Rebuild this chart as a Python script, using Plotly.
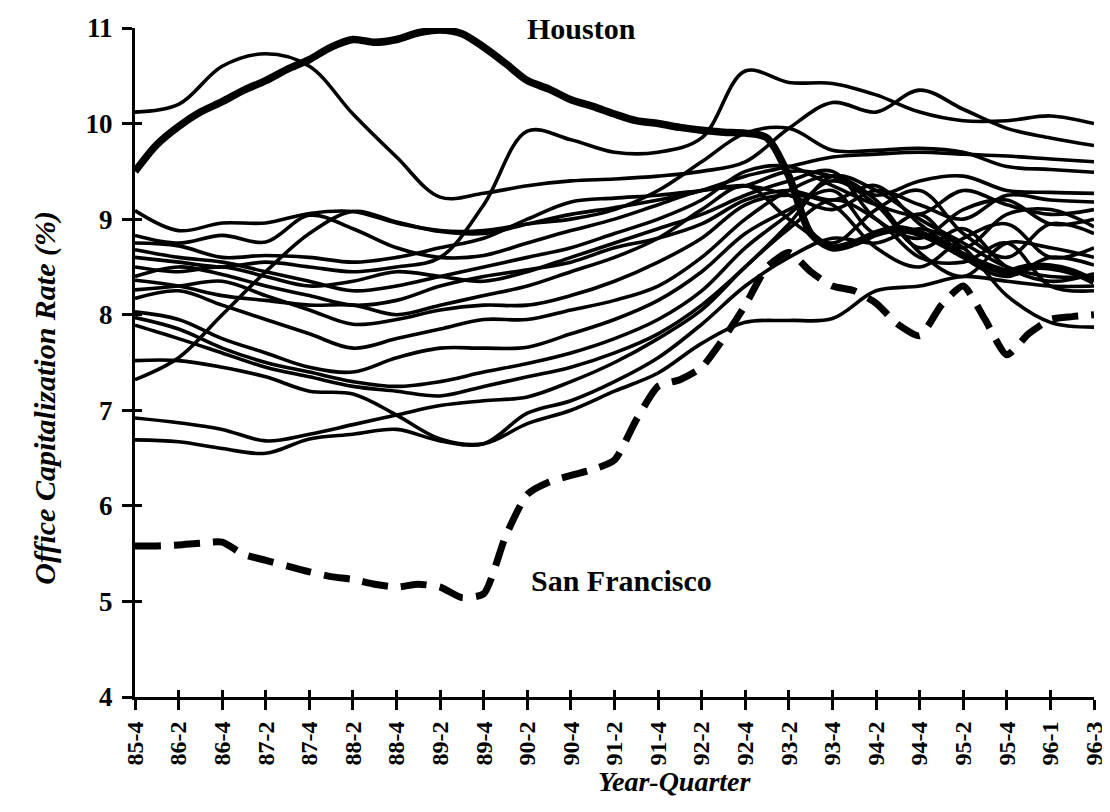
import plotly.graph_objects as go

# ---------------- data ----------------
TICK_LABELS = ["85-4", "86-2", "86-4", "87-2", "87-4", "88-2", "88-4", "89-2", "89-4",
               "90-2", "90-4", "91-2", "91-4", "92-2", "92-4", "93-2", "93-4", "94-2",
               "94-4", "95-2", "95-4", "96-1", "96-3"]
POS = list(range(len(TICK_LABELS)))                 # one point per labelled tick
HALF_POS = [i / 2 for i in range(2 * len(TICK_LABELS) - 1)]  # one point per quarter

HOUSTON = [9.5, 9.78, 9.97, 10.12, 10.23, 10.35, 10.45, 10.57, 10.67, 10.8, 10.88, 10.85,
           10.88, 10.95, 10.98, 10.94, 10.8, 10.63, 10.45, 10.36, 10.25, 10.18, 10.1, 10.03,
           10.0, 9.96, 9.93, 9.91, 9.9, 9.85, 9.45, 8.85, 8.7, 8.75, 8.85, 8.9, 8.85, 8.75,
           8.62, 8.52, 8.45, 8.5, 8.5, 8.45, 8.35]

SAN_FRANCISCO = [5.58, 5.58, 5.59, 5.61, 5.62, 5.49, 5.43, 5.37, 5.31, 5.26, 5.23, 5.18,
                 5.15, 5.18, 5.15, 5.04, 5.08, 5.68, 6.12, 6.25, 6.32, 6.38, 6.48, 6.9,
                 7.25, 7.32, 7.45, 7.75, 8.1, 8.5, 8.65, 8.45, 8.3, 8.25, 8.12, 7.9, 7.78,
                 8.1, 8.3, 7.95, 7.58, 7.8, 7.95, 7.98, 8.0]

CITY_PEAK = [10.12, 10.2, 10.6, 10.73, 10.6, 10.1, 9.65, 9.23, 9.27, 9.35, 9.4, 9.42, 9.45,
             9.5, 9.6, 9.95, 10.22, 10.12, 10.35, 10.15, 9.95, 9.85, 9.77]
CITY_HUMP = [8.6, 8.55, 8.5, 8.55, 8.5, 8.45, 8.5, 8.6, 9.15, 9.92, 9.83, 9.7, 9.7, 9.85,
             10.55, 10.43, 10.42, 10.3, 10.12, 10.03, 10.03, 10.08, 10.0]
CITY_A = [7.32, 7.55, 8.0, 8.45, 8.85, 9.08, 8.97, 8.87, 8.85, 8.95, 9.05, 9.12, 9.2, 9.3,
          9.45, 9.55, 9.65, 9.68, 9.7, 9.68, 9.66, 9.63, 9.6]
CITY_C = [9.09, 8.88, 8.96, 8.96, 9.06, 9.08, 8.96, 8.88, 8.88, 8.95, 9.0, 9.1, 9.3, 9.6,
          9.9, 9.95, 9.72, 9.72, 9.74, 9.7, 9.55, 9.52, 9.49]
CITY_1 = [8.83, 8.75, 8.83, 8.76, 9.04, 8.9, 8.7, 8.6, 8.62, 8.75, 8.88, 9.0, 9.15, 9.3,
          9.35, 9.5, 9.45, 9.25, 9.4, 9.45, 9.3, 9.28, 9.27]
CITY_2 = [8.75, 8.72, 8.6, 8.62, 8.6, 8.55, 8.6, 8.7, 8.8, 9.0, 9.18, 9.22, 9.25, 9.3,
          9.35, 9.25, 9.1, 9.3, 9.15, 9.0, 9.25, 9.2, 9.18]
CITY_3 = [8.68, 8.6, 8.55, 8.45, 8.35, 8.25, 8.3, 8.4, 8.5, 8.6, 8.7, 8.85, 9.0, 9.2,
          9.5, 9.55, 9.35, 9.15, 9.05, 9.3, 9.15, 9.05, 9.1]
CITY_4 = [8.5, 8.45, 8.5, 8.4, 8.3, 8.35, 8.45, 8.4, 8.35, 8.45, 8.6, 8.75, 8.9, 9.05,
          9.25, 9.4, 9.5, 9.0, 8.8, 9.1, 9.2, 8.95, 9.0]
CITY_5 = [8.4, 8.5, 8.42, 8.3, 8.2, 8.1, 8.15, 8.3, 8.4, 8.47, 8.55, 8.7, 8.8, 8.95,
          9.2, 9.3, 9.2, 9.35, 8.95, 8.7, 9.05, 9.1, 8.92]
CITY_6 = [8.36, 8.3, 8.2, 8.15, 8.1, 8.1, 8.0, 8.1, 8.2, 8.3, 8.45, 8.6, 8.8, 9.1,
          9.35, 9.0, 8.75, 9.1, 9.3, 8.85, 8.6, 8.95, 8.85]
CITY_7 = [8.26, 8.3, 8.35, 8.2, 8.05, 7.9, 7.95, 8.05, 8.1, 8.1, 8.2, 8.35, 8.55, 8.8,
          9.15, 9.25, 9.15, 8.7, 8.5, 8.8, 8.95, 8.6, 8.7]
CITY_8 = [8.17, 8.25, 8.1, 7.95, 7.8, 7.65, 7.75, 7.85, 7.95, 7.95, 8.05, 8.15, 8.3, 8.6,
          9.0, 9.3, 9.45, 9.2, 8.65, 8.4, 8.75, 8.7, 8.6]
CITY_9 = [8.03, 7.95, 7.75, 7.6, 7.45, 7.4, 7.55, 7.65, 7.65, 7.66, 7.8, 7.95, 8.15, 8.45,
          8.85, 9.1, 9.3, 8.85, 9.05, 8.6, 8.4, 8.6, 8.52]
CITY_10 = [7.97, 7.85, 7.65, 7.5, 7.4, 7.3, 7.25, 7.3, 7.4, 7.49, 7.6, 7.75, 7.95, 8.25,
           8.7, 9.05, 9.4, 9.15, 8.7, 8.9, 8.5, 8.35, 8.43]
CITY_11 = [7.89, 7.75, 7.6, 7.45, 7.35, 7.25, 7.2, 7.15, 7.25, 7.35, 7.45, 7.6, 7.8, 8.1,
           8.5, 8.95, 9.45, 9.3, 9.0, 8.75, 8.5, 8.4, 8.4]
CITY_12 = [7.52, 7.52, 7.45, 7.35, 7.2, 7.17, 6.95, 6.7, 6.65, 6.86, 7.0, 7.2, 7.39, 7.7,
           7.92, 7.94, 7.96, 8.25, 8.3, 8.4, 8.35, 8.3, 8.3]
CITY_13 = [6.92, 6.87, 6.8, 6.68, 6.75, 6.85, 6.95, 7.05, 7.1, 7.14, 7.3, 7.5, 7.75, 8.05,
           8.5, 8.9, 9.2, 9.0, 8.6, 8.55, 8.75, 8.3, 8.25]
CITY_14 = [6.69, 6.67, 6.6, 6.55, 6.7, 6.75, 6.8, 6.68, 6.65, 6.97, 7.1, 7.3, 7.55, 7.9,
           8.3, 8.6, 8.8, 8.75, 8.9, 8.7, 8.2, 7.92, 7.87]

OTHER_CITIES = [CITY_PEAK, CITY_HUMP, CITY_A, CITY_C, CITY_1, CITY_2, CITY_3, CITY_4,
                CITY_5, CITY_6, CITY_7, CITY_8, CITY_9, CITY_10, CITY_11, CITY_12,
                CITY_13, CITY_14]

Y_TICKS = [4, 5, 6, 7, 8, 9, 10, 11]

# ---------------- figure ----------------
FONT = "Liberation Serif"
fig = go.Figure()

for vals in OTHER_CITIES:
    fig.add_trace(go.Scatter(x=POS, y=vals, mode="lines",
                             line=dict(color="black", width=3.6, shape="spline", smoothing=1.0),
                             showlegend=False, hoverinfo="skip"))

fig.add_trace(go.Scatter(x=HALF_POS, y=HOUSTON, mode="lines", name="Houston",
                         line=dict(color="black", width=7.5, shape="spline", smoothing=0.8),
                         showlegend=False))
fig.add_trace(go.Scatter(x=HALF_POS, y=SAN_FRANCISCO, mode="lines", name="San Francisco",
                         line=dict(color="black", width=7, shape="spline", smoothing=0.6,
                                   dash="26px,13px"),
                         showlegend=False))
# empty trace so the overlay axes (inner half of the crossing ticks) are drawn
fig.add_trace(go.Scatter(x=[], y=[], xaxis="x2", yaxis="y2", showlegend=False))

axis_common = dict(showgrid=False, zeroline=False, linecolor="black", linewidth=3,
                   tickcolor="black", tickwidth=3, automargin=False)

# the page body adds an 8px offset, so the figure is 8px smaller than the window
fig.update_layout(
    template="none",
    width=1102, height=804,
    margin=dict(l=127, r=16, t=20, b=115),
    paper_bgcolor="white", plot_bgcolor="white",
    showlegend=False,
    xaxis=dict(range=[0, len(TICK_LABELS) - 1], tickvals=POS, ticktext=TICK_LABELS,
               showline=True, ticks="outside", ticklen=10, tickangle=-90,
               ticklabelstandoff=2,
               tickfont=dict(family=FONT, size=24, color="black", weight="bold"),
               **axis_common),
    yaxis=dict(range=[4, 11], tickvals=Y_TICKS, showline=True, ticks="outside",
               ticklen=10, ticklabelstandoff=4,
               tickfont=dict(family=FONT, size=27, color="black", weight="bold"),
               **axis_common),
    xaxis2=dict(range=[0, len(TICK_LABELS) - 1], tickvals=POS, overlaying="x", anchor="y",
                showline=False, ticks="inside", ticklen=7, showticklabels=False,
                showgrid=False, zeroline=False, tickcolor="black", tickwidth=3,
                automargin=False),
    yaxis2=dict(range=[4, 11], tickvals=Y_TICKS, overlaying="y", anchor="x",
                showline=False, ticks="inside", ticklen=7, showticklabels=False,
                showgrid=False, zeroline=False, tickcolor="black", tickwidth=3,
                automargin=False),
    annotations=[
        dict(text="Houston", x=10.25, y=11.0, xref="x", yref="y", showarrow=False,
             font=dict(family=FONT, size=30, color="black", weight="bold")),
        dict(text="San Francisco", x=11.17, y=5.22, xref="x", yref="y", showarrow=False,
             font=dict(family=FONT, size=30, color="black", weight="bold")),
        dict(text="Office Capitalization Rate (%)", x=-0.114, y=0.447, xref="paper",
             yref="paper", showarrow=False, textangle=-90,
             font=dict(family=FONT, size=30, color="black", weight="bold", style="italic")),
        dict(text="Year-Quarter", x=0.563, y=-0.153, xref="paper", yref="paper",
             showarrow=False,
             font=dict(family=FONT, size=28, color="black", weight="bold", style="italic")),
    ],
)

fig.write_html("out.html")
